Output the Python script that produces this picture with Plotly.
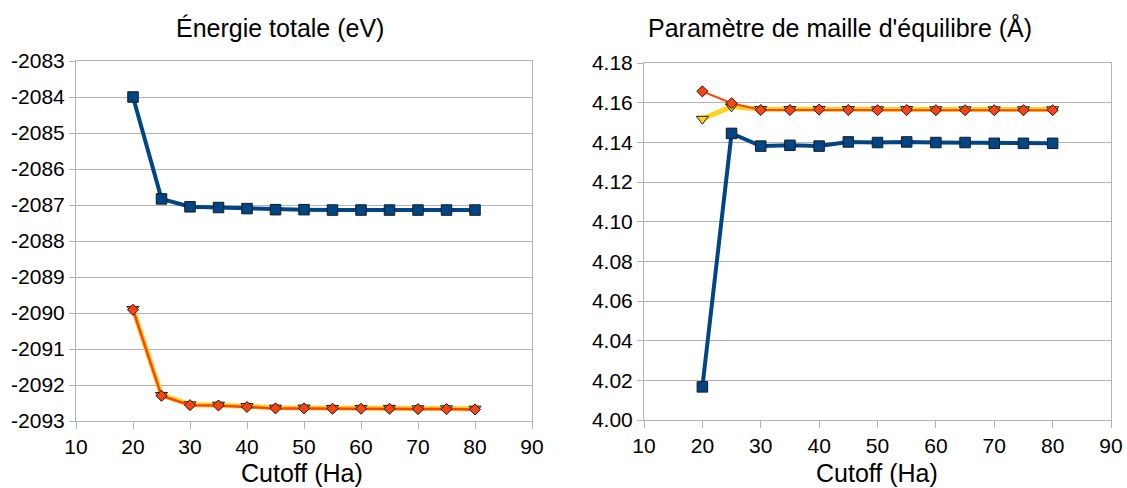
import plotly.graph_objects as go

cutoff = [20, 25, 30, 35, 40, 45, 50, 55, 60, 65, 70, 75, 80]

# Total energy (eV)
energy_blue = [-2084.00, -2086.83, -2087.05, -2087.07, -2087.10, -2087.13, -2087.13,
               -2087.14, -2087.14, -2087.14, -2087.14, -2087.14, -2087.14]
energy_yellow = [-2089.89, -2092.28, -2092.54, -2092.55, -2092.59, -2092.63, -2092.63,
                 -2092.64, -2092.64, -2092.64, -2092.65, -2092.65, -2092.66]
energy_orange = [-2089.91, -2092.30, -2092.56, -2092.57, -2092.61, -2092.65, -2092.65,
                 -2092.66, -2092.66, -2092.66, -2092.67, -2092.67, -2092.68]

# Equilibrium lattice parameter (Å)
lattice_blue = [4.0167, 4.1445, 4.1381, 4.1385, 4.1381, 4.1402, 4.1399,
                4.1402, 4.1399, 4.1399, 4.1395, 4.1395, 4.1395]
lattice_yellow = [4.1518, 4.1580, 4.1567, 4.1567, 4.1568, 4.1567, 4.1566,
                  4.1567, 4.1566, 4.1566, 4.1566, 4.1566, 4.1566]
lattice_orange = [4.1657, 4.1597, 4.1563, 4.1563, 4.1565, 4.1563, 4.1562,
                  4.1563, 4.1562, 4.1562, 4.1562, 4.1562, 4.1562]

energy_ticks = [-2083, -2084, -2085, -2086, -2087, -2088, -2089, -2090, -2091, -2092, -2093]
energy_ticktext = ["-2083", "-2084", "-2085", "-2086", "-2087", "-2088", "-2089",
                   "-2090", "-2091", "-2092", "-2093"]

title_left = "Énergie totale (eV)"
title_right = "Paramètre de maille d'équilibre (Å)"
x_title = "Cutoff (Ha)"

BLUE = "#004586"
ORANGE = "#ff420e"
YELLOW = "#ffd320"
OUTLINE = "#1a1a1a"
GRID = "#b3b3b3"
FONT = "Liberation Sans"

W, H = 1127, 488

fig = go.Figure()


def add_series(x, y, xa, ya, color, width, symbol, size):
    fig.add_trace(go.Scatter(
        x=x, y=y, xaxis=xa, yaxis=ya, mode="lines+markers",
        line=dict(color=color, width=width),
        marker=dict(symbol=symbol, size=size, color=color,
                    line=dict(color=OUTLINE, width=1)),
        showlegend=False, hoverinfo="x+y"))


add_series(cutoff, energy_blue, "x", "y", BLUE, 4, "square", 10.5)
add_series(cutoff, energy_yellow, "x", "y", YELLOW, 5, "triangle-down", 10.5)
add_series(cutoff, energy_orange, "x", "y", ORANGE, 2.5, "diamond", 8.5)

add_series(cutoff, lattice_blue, "x2", "y2", BLUE, 4, "square", 10.5)
add_series(cutoff, lattice_yellow, "x2", "y2", YELLOW, 5, "triangle-down", 10.5)
add_series(cutoff, lattice_orange, "x2", "y2", ORANGE, 2, "diamond", 8.5)

tickfont = dict(family=FONT, size=21, color="#000000")
common_x = dict(range=[10, 90], dtick=10, tick0=10, showgrid=False,
                showline=True, mirror=True, linecolor=GRID, linewidth=1,
                ticks="outside", ticklen=7, tickcolor=GRID, tickwidth=1,
                tickfont=tickfont, zeroline=False, fixedrange=True, automargin=False)
common_y = dict(showgrid=True, gridcolor=GRID, gridwidth=1,
                showline=True, mirror=True, linecolor=GRID, linewidth=1,
                ticks="outside", ticklen=6, tickcolor=GRID, tickwidth=1,
                tickfont=tickfont, zeroline=False, fixedrange=True, automargin=False)

fig.update_layout(
    template="none",
    width=W, height=H,
    margin=dict(l=0, r=0, t=0, b=0, pad=0),
    paper_bgcolor="white", plot_bgcolor="white",
    font=dict(family=FONT, color="#000000"),
    xaxis=dict(domain=[76 / W, 532 / W], anchor="y", **common_x),
    yaxis=dict(domain=[(H - 421) / H, (H - 61) / H], anchor="x",
               range=[-2093, -2083], tickvals=energy_ticks, ticktext=energy_ticktext,
               **common_y),
    xaxis2=dict(domain=[644 / W, 1111 / W], anchor="y2", **common_x),
    yaxis2=dict(domain=[(H - 420) / H, (H - 63) / H], anchor="x2",
                range=[4.00, 4.18], dtick=0.02, tick0=4.0, tickformat=".2f",
                **common_y),
    annotations=[
        dict(text=title_left, x=280 / W, y=(H - 28) / H, xref="paper", yref="paper",
             xanchor="center", yanchor="middle", showarrow=False,
             font=dict(family=FONT, size=25, color="#000000")),
        dict(text=title_right, x=840 / W, y=(H - 28) / H, xref="paper", yref="paper",
             xanchor="center", yanchor="middle", showarrow=False,
             font=dict(family=FONT, size=25, color="#000000")),
        dict(text=x_title, x=302 / W, y=(H - 473) / H, xref="paper", yref="paper",
             xanchor="center", yanchor="middle", showarrow=False,
             font=dict(family=FONT, size=25, color="#000000")),
        dict(text=x_title, x=877 / W, y=(H - 473) / H, xref="paper", yref="paper",
             xanchor="center", yanchor="middle", showarrow=False,
             font=dict(family=FONT, size=25, color="#000000")),
    ],
)

fig.write_html("out.html", config={"displayModeBar": False},
               post_script="document.body.style.margin='0';document.body.style.overflow='hidden';")
